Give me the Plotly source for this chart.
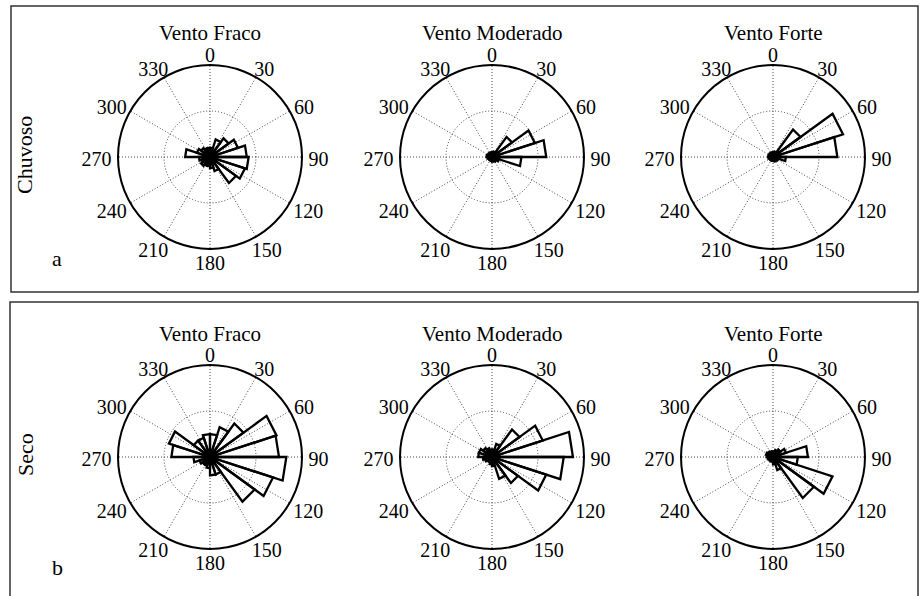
import math
import plotly.graph_objects as go

W, H = 923, 596

# ---- data (bar lengths in % of the outer circle, 20 bins of 18 deg, compass degrees) ----
bin_starts = list(range(0, 360, 18))
bin_width = 18
col_titles = ["Vento Fraco", "Vento Moderado", "Vento Forte"]
row_labels = ["Chuvoso", "Seco"]
panel_letters = ["a", "b"]
angle_ticks = list(range(0, 360, 30))
angle_labels = [str(a) for a in angle_ticks]

chuvoso_fraco = [10, 20, 25, 32, 40, 42, 40, 35, 16, 12, 10, 10, 12, 10, 12, 27, 15, 12, 10, 10]
chuvoso_moderado = [5, 6, 27, 49, 59, 32, 8, 6, 5, 5, 4, 4, 4, 4, 5, 6, 5, 5, 5, 5]
chuvoso_forte = [5, 6, 37, 80, 70, 14, 6, 5, 5, 4, 4, 4, 4, 4, 5, 5, 5, 5, 5, 5]
seco_fraco = [25, 34, 45, 76, 75, 83, 72, 60, 20, 20, 12, 10, 10, 12, 18, 42, 47, 22, 22, 25]
seco_moderado = [8, 15, 37, 58, 88, 78, 62, 35, 25, 10, 8, 6, 6, 8, 10, 15, 15, 12, 10, 8]
seco_forte = [6, 8, 10, 15, 38, 27, 68, 55, 15, 8, 5, 5, 5, 5, 6, 7, 8, 7, 6, 6]

panels = [[chuvoso_fraco, chuvoso_moderado, chuvoso_forte],
          [seco_fraco, seco_moderado, seco_forte]]

# ---- layout geometry (pixels) ----
col_cx = [210, 492, 773]
row_cy = [157, 457]
title_y = [33, 334]
R = 92
RMAX = 100
LBL_SCALE = 1.35
FONT = "Liberation Serif"
TICK_SIZE = 20


def label_polar(theta, text):
    # place an angle label just outside the rim, offset by half its box
    sn, cs = math.sin(math.radians(theta)), math.cos(math.radians(theta))
    w = len(text) * TICK_SIZE * 0.5
    gap, half_h, dy = 6.5, 5.5, 4.5
    x = (R + gap) * sn + sn * w / 2
    y = -(R + gap) * cs - cs * half_h + dy      # screen y (down positive)
    r_px = math.hypot(x, y)
    th = math.degrees(math.atan2(x, -y)) % 360
    return r_px * RMAX / R, th


label_pos = [label_polar(t, s) for t, s in zip(angle_ticks, angle_labels)]
label_r = [p[0] for p in label_pos]
label_t = [p[1] for p in label_pos]

fig = go.Figure()
layout_polars = {}
annotations = []

k = 0
for ri, row in enumerate(panels):
    for ci, vals in enumerate(row):
        cx, cy = col_cx[ci], row_cy[ri]
        k += 1
        name = "polar" if k == 1 else f"polar{k}"
        rs, ts = [], []
        for start, v in zip(bin_starts, vals):
            rs += [0, v, v, 0, None]
            ts += [start, start, start + bin_width, start + bin_width, None]
        fig.add_trace(go.Scatterpolar(
            r=rs, theta=ts, mode="lines", subplot=name,
            line=dict(color="black", width=2.3), connectgaps=False,
            showlegend=False, hoverinfo="skip"))
        layout_polars[name] = dict(
            domain=dict(x=[(cx - R) / W, (cx + R) / W],
                        y=[(H - cy - R) / H, (H - cy + R) / H]),
            bgcolor="white",
            angularaxis=dict(
                rotation=90, direction="clockwise",
                tickmode="array", tickvals=angle_ticks,
                showticklabels=False,
                ticks="", showline=True, linecolor="black", linewidth=2,
                showgrid=True, gridcolor="#444", gridwidth=1, griddash="1px,2px"),
            radialaxis=dict(
                range=[0, RMAX], tickvals=[RMAX / 2], showticklabels=False,
                ticks="", showline=False, showgrid=True,
                gridcolor="#444", gridwidth=1, griddash="1px,2px"),
        )
        # overlay subplot (same centre and scale, larger) carrying the angle labels
        k += 1
        lname = f"polar{k}"
        RL = R * LBL_SCALE
        fig.add_trace(go.Scatterpolar(
            r=label_r, theta=label_t, mode="text", text=angle_labels,
            textposition="middle center", cliponaxis=False, subplot=lname,
            textfont=dict(family=FONT, size=TICK_SIZE, color="black"),
            showlegend=False, hoverinfo="skip"))
        layout_polars[lname] = dict(
            domain=dict(x=[(cx - RL) / W, (cx + RL) / W],
                        y=[(H - cy - RL) / H, (H - cy + RL) / H]),
            bgcolor="rgba(0,0,0,0)",
            angularaxis=dict(rotation=90, direction="clockwise",
                             showticklabels=False, ticks="", showline=False,
                             showgrid=False),
            radialaxis=dict(range=[0, RMAX * LBL_SCALE], showticklabels=False,
                            ticks="", showline=False, showgrid=False),
        )
        annotations.append(dict(
            x=cx / W, y=1 - title_y[ri] / H, xref="paper", yref="paper",
            text=col_titles[ci], showarrow=False,
            font=dict(family=FONT, size=21, color="black"),
            xanchor="center", yanchor="middle"))

for ri in range(2):
    annotations.append(dict(
        x=25 / W, y=1 - (155 if ri == 0 else 455) / H, xref="paper", yref="paper",
        text=row_labels[ri], textangle=-90, showarrow=False,
        font=dict(family=FONT, size=22, color="black"),
        xanchor="center", yanchor="middle"))
    annotations.append(dict(
        x=57 / W, y=1 - (258 if ri == 0 else 567) / H, xref="paper", yref="paper",
        text=panel_letters[ri], showarrow=False,
        font=dict(family=FONT, size=22, color="black"),
        xanchor="center", yanchor="middle"))

shapes = [
    dict(type="rect", xref="paper", yref="paper",
         x0=11 / W, x1=918 / W, y0=1 - 292 / H, y1=1 - 6 / H,
         line=dict(color="#333", width=1.5)),
    dict(type="rect", xref="paper", yref="paper",
         x0=10 / W, x1=918 / W, y0=1 - 597 / H, y1=1 - 302 / H,
         line=dict(color="#333", width=1.5)),
]

fig.update_layout(
    width=W, height=H, margin=dict(l=0, r=0, t=0, b=0),
    paper_bgcolor="white", plot_bgcolor="white",
    annotations=annotations, shapes=shapes, showlegend=False,
    **layout_polars)

fig.write_html("out.html")
